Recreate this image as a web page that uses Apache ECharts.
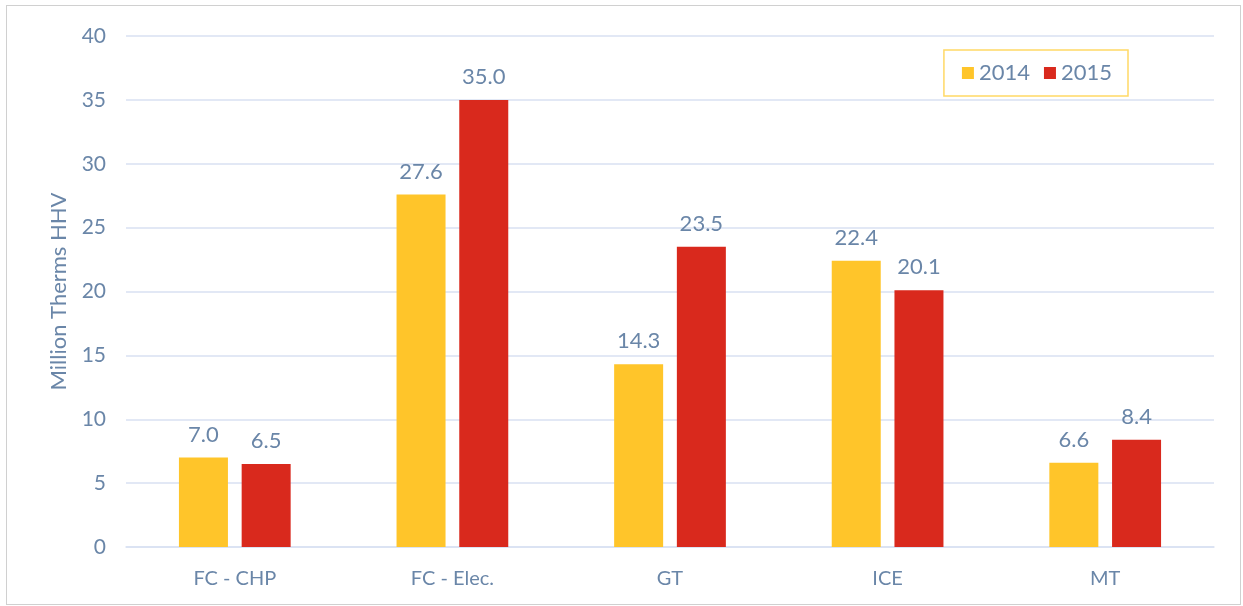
<!DOCTYPE html>
<html>
<head>
<meta charset="utf-8">
<script src="https://cdn.jsdelivr.net/npm/echarts@6/dist/echarts.min.js"></script>
<style>
  html, body { margin: 0; padding: 0; background: #fff; }
  #chart {
    position: absolute; left: 6px; top: 5px;
    width: 1235px; height: 600px;
    border: 1px solid #d0d0d0; box-sizing: border-box;
  }
</style>
</head>
<body>
<div id="chart"></div>
<script>
const categories = ['FC - CHP', 'FC - Elec.', 'GT', 'ICE', 'MT']
const values2014 = [7.0, 27.6, 14.3, 22.4, 6.6]
const values2015 = [6.5, 35.0, 23.5, 20.1, 8.4]
const seriesNames = ['2014', '2015']

const textColor = '#6a86a8'
const font = 'Lato, "Open Sans", sans-serif'

const chart = echarts.init(document.getElementById('chart'))

const labelOpt = {
  show: true,
  position: 'top',
  distance: 12,
  color: textColor,
  fontFamily: font,
  fontSize: 22,
  formatter: p => p.value.toFixed(1)
}

chart.setOption({
  animation: false,
  textStyle: { fontFamily: font },
  grid: { left: 119, right: 26, top: 30, bottom: 57 },
  legend: {
    data: seriesNames,
    right: 112,
    top: 44,
    padding: [12, 16, 12, 18],
    borderColor: '#ffd966',
    borderWidth: 1.5,
    itemWidth: 12,
    itemHeight: 12,
    itemGap: 14,
    icon: 'rect',
    textStyle: { color: textColor, fontSize: 22, fontFamily: font }
  },
  xAxis: {
    type: 'category',
    data: categories,
    axisLine: { lineStyle: { color: '#d9e1f2', width: 1.5 } },
    axisTick: { show: false },
    axisLabel: { color: textColor, fontSize: 20, margin: 22, fontFamily: font }
  },
  yAxis: {
    type: 'value',
    min: 0,
    max: 40,
    interval: 5,
    name: 'Million Therms HHV',
    nameLocation: 'middle',
    nameGap: 56,
    nameTextStyle: { color: textColor, fontSize: 22, fontFamily: font },
    axisLine: { show: false },
    axisTick: { show: false },
    axisLabel: { color: textColor, fontSize: 21, margin: 20, fontFamily: font },
    splitLine: { lineStyle: { color: '#d9e1f2', width: 1.5 } }
  },
  series: [
    {
      name: seriesNames[0],
      type: 'bar',
      data: values2014,
      barWidth: 49,
      barGap: '28%',
      itemStyle: { color: '#ffc52a' },
      label: labelOpt
    },
    {
      name: seriesNames[1],
      type: 'bar',
      data: values2015,
      barWidth: 49,
      barGap: '28%',
      itemStyle: { color: '#d9291d' },
      label: labelOpt
    }
  ]
})
</script>
</body>
</html>
